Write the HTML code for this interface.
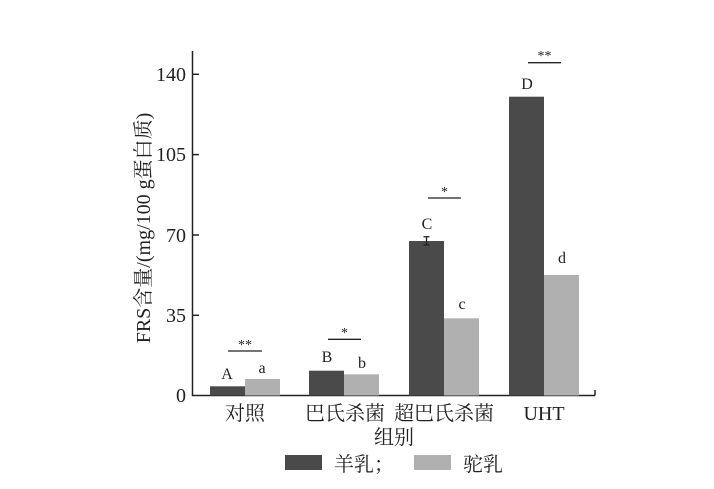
<!DOCTYPE html>
<html><head><meta charset="utf-8"><style>
html,body{margin:0;padding:0;background:#fff;}
svg{display:block;}
text{font-family:"Liberation Serif","Noto Serif CJK SC",serif;fill:#222;}
</style></head><body>
<svg width="714" height="489" viewBox="0 0 714 489" xmlns="http://www.w3.org/2000/svg">
<g stroke="#222" stroke-width="1.5" fill="none">
<polyline points="192.5,51 192.5,395.5 595,395.5"/>
<line x1="192.5" y1="74.3" x2="199" y2="74.3"/>
<line x1="192.5" y1="154.6" x2="199" y2="154.6"/>
<line x1="192.5" y1="235" x2="199" y2="235"/>
<line x1="192.5" y1="315.3" x2="199" y2="315.3"/>
<line x1="245" y1="395.5" x2="245" y2="390"/>
<line x1="344" y1="395.5" x2="344" y2="390"/>
<line x1="444" y1="395.5" x2="444" y2="390"/>
<line x1="544" y1="395.5" x2="544" y2="390"/>
<line x1="595" y1="395.5" x2="595" y2="390"/>
</g>
<g fill="#4a4a4a">
<rect x="210" y="386.3" width="35" height="9.2"/>
<rect x="309" y="370.7" width="35" height="24.8"/>
<rect x="409" y="241" width="35" height="154.5"/>
<rect x="509" y="96.7" width="35" height="298.8"/>
</g>
<g fill="#b0b0b0">
<rect x="245" y="379" width="35" height="16.5"/>
<rect x="344" y="374.3" width="35" height="21.2"/>
<rect x="444" y="318.3" width="35" height="77.2"/>
<rect x="544" y="275" width="35" height="120.5"/>
</g>
<g stroke="#222" stroke-width="1.3">
<line x1="426.5" y1="236.7" x2="426.5" y2="245"/>
<line x1="423.5" y1="236.7" x2="429.5" y2="236.7"/>
<line x1="423.5" y1="245" x2="429.5" y2="245"/>
<line x1="228" y1="351" x2="262" y2="351"/>
<line x1="328" y1="339.3" x2="361" y2="339.3"/>
<line x1="428" y1="198" x2="461" y2="198"/>
<line x1="528" y1="62.7" x2="561" y2="62.7"/>
</g>
<g font-size="14" text-anchor="middle">
<text x="245" y="349">**</text>
<text x="344.5" y="337">*</text>
<text x="444.5" y="196">*</text>
<text x="544.5" y="60">**</text>
</g>
<g font-size="16" text-anchor="middle">
<text x="227" y="379">A</text>
<text x="262" y="373">a</text>
<text x="327" y="362">B</text>
<text x="362" y="368">b</text>
<text x="427" y="229">C</text>
<text x="462" y="309">c</text>
<text x="527" y="89">D</text>
<text x="562" y="263">d</text>
</g>
<g font-size="20" text-anchor="end">
<text x="186" y="81">140</text>
<text x="186" y="161">105</text>
<text x="186" y="242">70</text>
<text x="186" y="322">35</text>
<text x="186" y="402">0</text>
</g>
<g font-size="20" text-anchor="middle">
<text x="245" y="420">对照</text>
<text x="345" y="420">巴氏杀菌</text>
<text x="444" y="420">超巴氏杀菌</text>
<text x="544" y="420">UHT</text>
<text x="394" y="444">组别</text>
</g>
<text font-size="20" text-anchor="middle" transform="translate(150,228) rotate(-90)">FRS含量/(mg/100 g蛋白质)</text>
<rect x="285" y="455" width="37" height="15" fill="#4a4a4a"/>
<text x="334" y="471" font-size="20">羊乳；</text>
<rect x="414" y="455" width="37" height="15" fill="#b0b0b0"/>
<text x="463" y="471" font-size="20">驼乳</text>
</svg>
</body></html>
